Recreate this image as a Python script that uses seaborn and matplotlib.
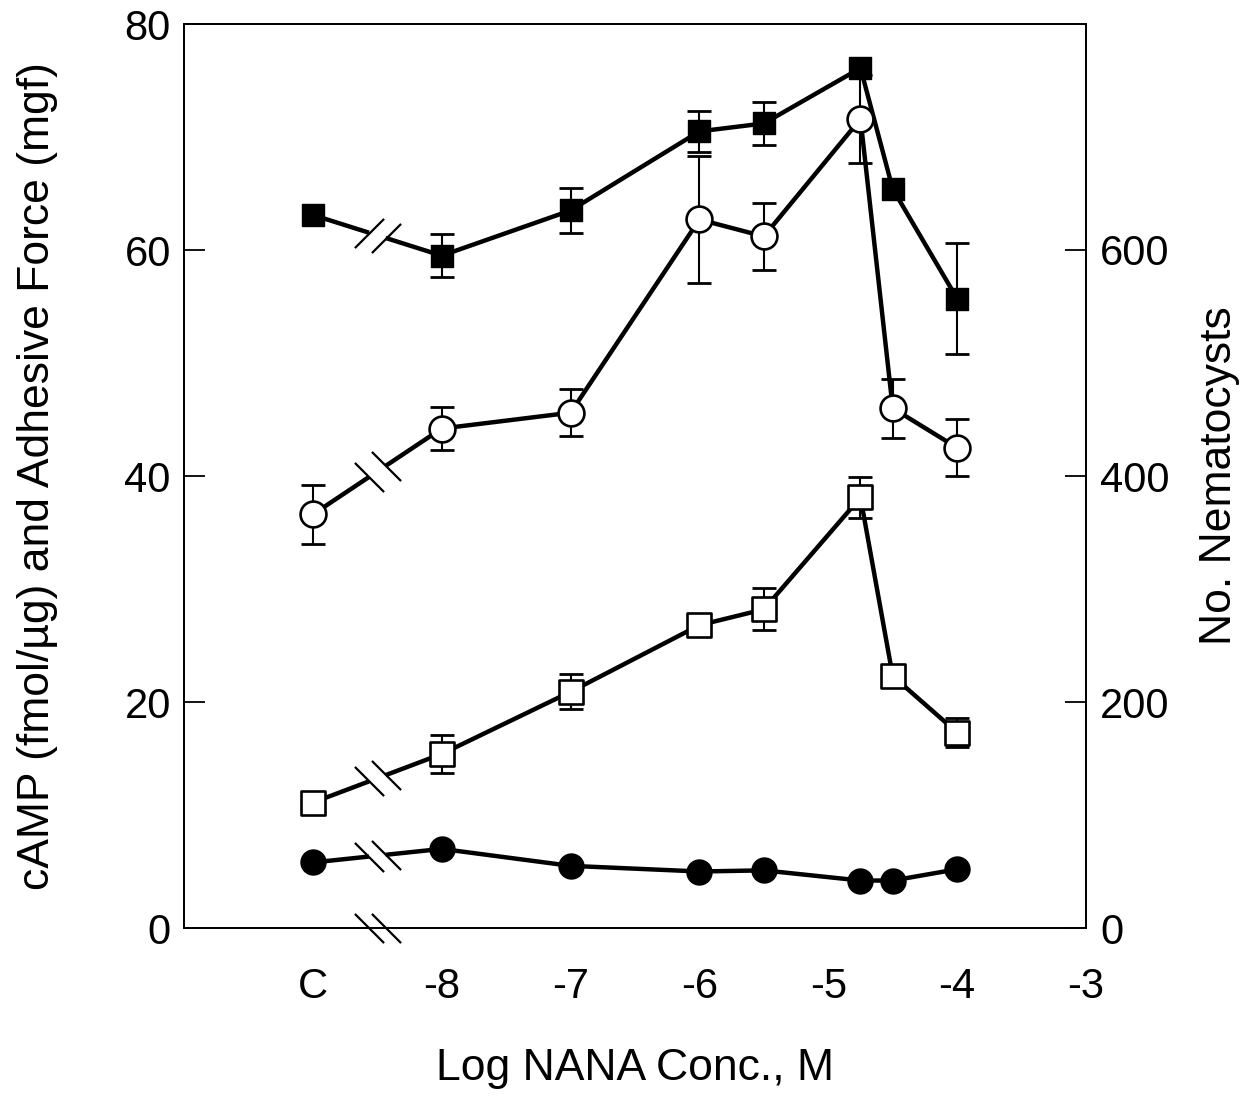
import numpy as np
import matplotlib
matplotlib.use("Agg")
import matplotlib.pyplot as plt
from matplotlib.path import Path
import seaborn as sns

# ---------------- data ----------------
x_ticks = [-9, -8, -7, -6, -5, -4, -3]
x_ticklabels = ["C", "-8", "-7", "-6", "-5", "-4", "-3"]
left_ticks = [0, 20, 40, 60, 80]
right_ticks = [0, 200, 400, 600]

# log NANA concentration (M); -9 stands for the control "C"
conc = [-9, -8, -7, -6, -5.5, -4.75, -4.5, -4]

filled_sq = [63.1, 59.5, 63.5, 70.5, 71.2, 76.1, 65.4, 55.7]
filled_sq_err = [0, 1.9, 2.0, 1.8, 1.9, 0, 0, 4.9]

open_circ = [36.6, 44.2, 45.6, 62.7, 61.2, 71.6, 46.0, 42.5]
open_circ_err = [2.6, 1.9, 2.1, 5.6, 3.0, 3.9, 2.6, 2.5]

open_sq = [11.1, 15.4, 20.9, 26.8, 28.2, 38.1, 22.3, 17.3]
open_sq_err = [0, 1.7, 1.55, 0, 1.85, 1.8, 0, 1.3]

filled_circ = [5.8, 7.0, 5.5, 5.0, 5.1, 4.2, 4.2, 5.2]
filled_circ_err = [0, 0, 0, 0, 0, 0, 0, 0]

x_label = "Log NANA Conc., M"
y_label = "cAMP (fmol/\u00b5g) and Adhesive Force (mgf)"
y2_label = "No. Nematocysts"

# ---------------- style ----------------
sns.set_style("white")
plt.rcParams["font.family"] = ["Liberation Sans", "DejaVu Sans"]
plt.rcParams["text.color"] = "black"
plt.rcParams["axes.labelcolor"] = "black"

W, H = 1249, 1097
fig = plt.figure(figsize=(W / 100, H / 100), dpi=100)
L, R, T, B = 184, 1086, 24, 928
ax = fig.add_axes([L / W, 1 - B / H, (R - L) / W, (B - T) / H])
ax.set_facecolor("white")
ax.set_xlim(-10, -3)
ax.set_ylim(0, 80)

series = [
    (filled_sq, filled_sq_err, "s", "black", 16.5, 1.0),
    (open_circ, open_circ_err, "o", "white", 18.6, 1.9),
    (open_sq, open_sq_err, "s", "white", 17.0, 1.9),
    (filled_circ, filled_circ_err, "o", "black", 18.0, 1.0),
]

xb, d = -8.5, 0.065  # axis break position (between C and -8)
slash_up = Path([(-1, -1), (1, 1)], [Path.MOVETO, Path.LINETO])
slash_dn = Path([(-1, 1), (1, -1)], [Path.MOVETO, Path.LINETO])

for vals, errs, mk, face, ms, mew in series:
    x = np.array(conc)
    y = np.array(vals)
    e = np.array(errs)
    # connecting line from -8 onward
    sns.lineplot(x=x[1:], y=y[1:], ax=ax, color="black", lw=3.2,
                 errorbar=None, sort=False, zorder=2.5)
    # broken segment between control and -8
    def yint(xx):
        return y[0] + (y[1] - y[0]) * (xx - x[0]) / (x[1] - x[0])
    ax.plot([x[0], xb - d], [y[0], yint(xb - d)], color="black", lw=3.2,
            solid_capstyle="butt", zorder=2.5)
    ax.plot([xb + d, x[1]], [yint(xb + d), y[1]], color="black", lw=3.2,
            solid_capstyle="butt", zorder=2.5)
    sl = slash_up if y[1] < y[0] else slash_dn
    ax.plot([xb - d, xb + d], [yint(xb - d), yint(xb + d)], linestyle="none",
            marker=sl, markersize=21, mew=1.6, color="black", zorder=5)
    # error bars
    m = e > 0
    if m.any():
        ax.errorbar(x[m], y[m], yerr=e[m], fmt="none", ecolor="black",
                    elinewidth=1.5, capsize=8.3, capthick=2.0, zorder=2)
    # markers
    sns.scatterplot(x=x, y=y, ax=ax, marker=mk, s=ms ** 2, color=face,
                    edgecolor="black", linewidth=mew, zorder=4, legend=False)

# break marks on the x axis
ax.plot([xb - d, xb + d], [0, 0], linestyle="none", marker=slash_dn,
        markersize=21, mew=1.6, color="black", clip_on=False, zorder=6)

# ticks and spines
ax.set_xticks(x_ticks)
ax.set_xticklabels(x_ticklabels)
ax.set_yticks(left_ticks)
ax.tick_params(axis="both", direction="in", length=15, width=1.3,
               labelsize=30, colors="black", right=False, top=False)
ax.tick_params(axis="x", pad=28)
ax.tick_params(axis="y", pad=9.5)
for s in ax.spines.values():
    s.set_linewidth(1.3)
    s.set_color("black")
    s.set_visible(True)

ax2 = ax.twinx()
ax2.set_ylim(0, 800)
ax2.set_yticks(right_ticks)
ax2.tick_params(axis="y", direction="in", length=15, width=1.3,
                labelsize=30, pad=10, colors="black")
for s in ax2.spines.values():
    s.set_linewidth(1.3)
    s.set_color("black")

ax.set_xlabel(x_label, fontsize=32, color="black")
ax.set_ylabel(y_label, fontsize=32, color="black")
ax2.set_ylabel(y2_label, fontsize=32, rotation=90, color="black")
ax.xaxis.label.set_va("center")
ax.yaxis.label.set_va("center")
ax2.yaxis.label.set_va("center")
ax.xaxis.set_label_coords(0.5, -0.155)
ax.yaxis.set_label_coords(-0.162, 0.5)
ax2.yaxis.set_label_coords(1.148, 0.5)

ax.set_zorder(ax2.get_zorder() + 1)
ax.patch.set_visible(False)

fig.savefig("out.png", dpi=100, facecolor="white")
